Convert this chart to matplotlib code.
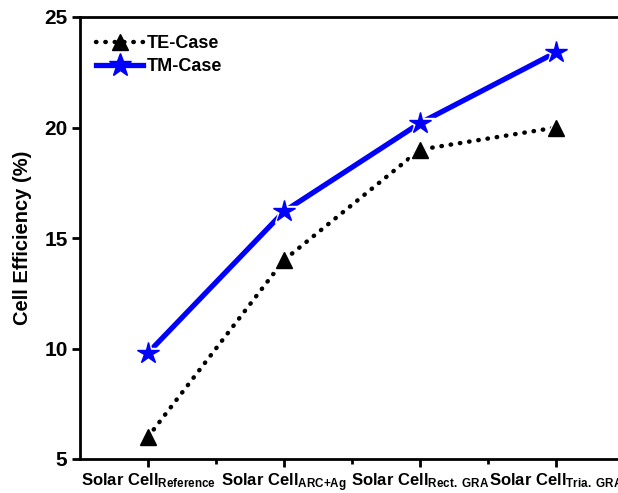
import matplotlib
matplotlib.use("Agg")
import matplotlib.pyplot as plt
from matplotlib.ticker import MultipleLocator, FixedLocator

plt.rcParams['font.family'] = ['Liberation Sans', 'DejaVu Sans']
plt.rcParams['font.weight'] = 'bold'
plt.rcParams['mathtext.fontset'] = 'custom'
plt.rcParams['mathtext.rm'] = 'Liberation Sans:bold'
plt.rcParams['mathtext.bf'] = 'Liberation Sans:bold'
plt.rcParams['mathtext.it'] = 'Liberation Sans:bold'

categories = [r'Solar Cell$_{\mathbf{Reference}}$',
              r'Solar Cell$_{\mathbf{ARC{+}Ag}}$',
              r'Solar Cell$_{\mathbf{Rect.\ GRA}}$',
              r'Solar Cell$_{\mathbf{Tria.\ GRA}}$']
te_case = [6.0, 14.0, 19.0, 20.0]
tm_case = [9.8, 16.2, 20.2, 23.4]

fig = plt.figure(figsize=(6.18, 4.93), dpi=100)
ax = fig.add_axes([80/618, 34/493, (624-80)/618, (459-17)/493])

x = list(range(len(categories)))

# lines
ax.plot(x, te_case, color='black', linestyle=(0, (0.1, 2.0)), linewidth=3.2,
        dash_capstyle='round', zorder=2)
ax.plot(x, tm_case, color='#0000ff', linestyle='-', linewidth=3.8, zorder=2)
# white halos for gaps around markers
ax.plot(x, te_case, linestyle='none', marker='^', markersize=16, color='white', zorder=3)
ax.plot(x, tm_case, linestyle='none', marker='*', markersize=22, color='white', zorder=3)
ax.plot(x, te_case, linestyle='none', marker='^', markersize=11, color='black', zorder=4)
ax.plot(x, tm_case, linestyle='none', marker='*', markersize=16, color='#0000ff', zorder=4)

h1, = ax.plot([], [], color='black', linestyle=(0, (0.1, 2.0)), linewidth=3.2,
              dash_capstyle='round', marker='^', markersize=12)
h2, = ax.plot([], [], color='#0000ff', linewidth=3.8, marker='*', markersize=17)

ax.set_xlim(-0.5, 3.5)
ax.set_ylim(5, 25)
ax.yaxis.set_major_locator(MultipleLocator(5))
ax.set_xticks(x)
ax.set_xticklabels(categories, fontsize=12, fontweight='bold')
ax.xaxis.set_minor_locator(FixedLocator([0.5, 1.5, 2.5]))
for lab in ax.get_yticklabels():
    lab.set_fontweight('bold')
ax.tick_params(axis='both', which='major', direction='out', length=6, width=2)
ax.tick_params(axis='x', which='minor', direction='out', length=3.5, width=2)
ax.tick_params(axis='y', which='major', labelsize=15, pad=3)
ax.tick_params(axis='x', which='major', pad=3)

for s in ax.spines.values():
    s.set_linewidth(2)

ax.set_ylabel('Cell Efficiency (%)', fontsize=14.5, fontweight='bold', labelpad=9)

leg = ax.legend([h1, h2], ['TE-Case', 'TM-Case'], loc='upper left', frameon=False,
                fontsize=13, handlelength=2.6, handletextpad=0.2, borderaxespad=0.5,
                labelspacing=0.3, bbox_to_anchor=(0.0, 0.995))
for t in leg.get_texts():
    t.set_fontweight('bold')

fig.savefig('out.png', dpi=100)
